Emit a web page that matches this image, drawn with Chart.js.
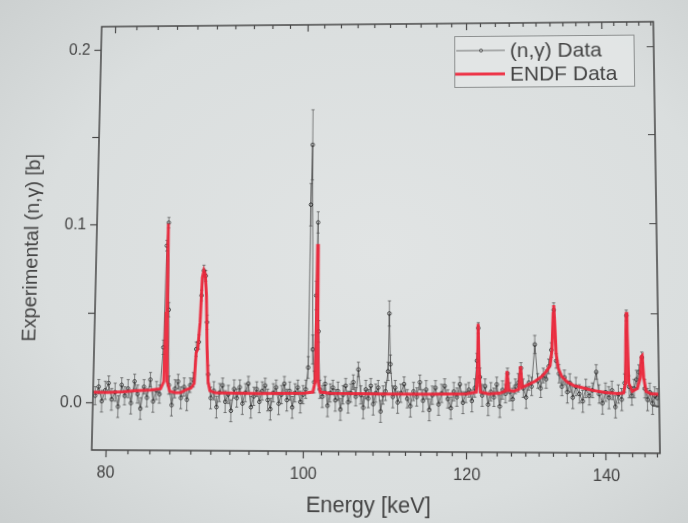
<!DOCTYPE html>
<html>
<head>
<meta charset="utf-8">
<title>Experimental (n,γ) vs ENDF</title>
<script src="https://cdn.jsdelivr.net/npm/chart.js@4.4.1/dist/chart.umd.min.js"></script>
<style>
  html, body { margin: 0; padding: 0; width: 688px; height: 523px; overflow: hidden; }
  body { background: radial-gradient(ellipse 75% 75% at 55% 48%, #e1e4e4 0%, #dadede 65%, #cbcfcf 100%); }
  #c { position: absolute; left: 0; top: 0; transform-origin: 0 0; }
</style>
</head>
<body>
<canvas id="c" width="688" height="523"></canvas>
<script>
// ---- measured (n,gamma) cross section: energy [keV], sigma [b], 1-sigma error [b]
const expEnergy = [
  78.9, 79.2, 79.5, 79.8, 80.1, 80.4, 80.7, 81.0, 81.3, 81.6,
  81.9, 82.2, 82.5, 82.8, 83.1, 83.4, 83.7, 84.0, 84.3, 84.6,
  84.9, 85.2, 85.35, 85.5, 85.65, 85.8, 86.1, 86.4, 86.7, 87.0,
  87.3, 87.6, 87.9, 88.2, 88.45, 88.7, 88.9, 89.1, 89.3, 89.5,
  89.7, 90.0, 90.3, 90.6, 90.9, 91.2, 91.5, 91.8, 92.1, 92.4,
  92.7, 93.0, 93.3, 93.6, 93.9, 94.2, 94.5, 94.8, 95.1, 95.4,
  95.7, 96.0, 96.3, 96.6, 96.9, 97.2, 97.5, 97.8, 98.1, 98.4,
  98.7, 99.0, 99.3, 99.6, 99.9, 100.2, 100.45, 100.6, 100.75, 100.95,
  101.15, 101.3, 101.45, 101.6, 101.8, 102.1, 102.4, 102.7, 103.0, 103.3,
  103.6, 103.9, 104.2, 104.5, 104.8, 105.1, 105.4, 105.7, 106.0, 106.3,
  106.6, 106.9, 107.2, 107.5, 107.8, 108.1, 108.4, 108.7, 109.0, 109.3,
  109.6, 109.9, 110.05, 110.2, 110.5, 110.8, 111.1, 111.5, 111.9, 112.3,
  112.7, 113.1, 113.5, 113.9, 114.3, 114.7, 115.1, 115.5, 115.9, 116.3,
  116.7, 117.1, 117.5, 117.9, 118.3, 118.7, 119.1, 119.5, 119.9, 120.3,
  120.7, 121.1, 121.4, 121.6, 121.8, 122.1, 122.5, 122.9, 123.3, 123.7,
  124.1, 124.5, 124.9, 125.3, 125.6, 125.9, 126.3, 126.7, 127.1, 127.5,
  127.8, 128.2, 128.6, 129.0, 129.5, 129.9, 130.3, 130.7, 131.1, 131.5,
  131.9, 132.3, 132.6, 133.0, 133.4, 133.8, 134.2, 134.6, 135.0, 135.5,
  136.0, 136.5, 137.0, 137.5, 138.0, 138.6, 139.0, 139.5, 140.0, 140.5,
  141.0, 141.5, 142.0, 142.5, 143.0, 143.4, 143.7, 144.1, 144.5, 144.9,
  145.3, 145.8, 146.2, 146.6, 147.0, 147.4, 147.8, 148.2
];
const expSigma = [
  0.004, 0.009, 0.001, 0.007, 0.011, 0.002, 0.006, -0.002, 0.010, 0.004,
  0.008, 0.000, 0.012, 0.005, -0.003, 0.009, 0.003, 0.013, 0.001, 0.007,
  0.005, 0.031, 0.088, 0.101, 0.052, 0.010, -0.001, 0.008, 0.012, 0.003,
  0.009, 0.002, 0.010, 0.013, 0.030, 0.034, 0.060, 0.074, 0.071, 0.045,
  0.016, 0.003, 0.007, -0.002, 0.006, 0.010, 0.001, 0.005, -0.004, 0.008,
  0.003, 0.009, 0.000, 0.006, 0.011, -0.002, 0.004, 0.008, 0.001, 0.007,
  0.010, 0.002, -0.003, 0.006, 0.009, 0.000, 0.005, 0.011, 0.002, 0.007,
  -0.002, 0.006, 0.009, 0.001, 0.005, 0.008, 0.020, 0.111, 0.145, 0.030,
  0.012, 0.060, 0.101, 0.040, 0.008, 0.004, 0.011, -0.001, 0.006, 0.009,
  0.002, 0.007, -0.003, 0.005, 0.010, 0.001, 0.006, 0.012, 0.004, 0.019,
  0.005, -0.002, 0.008, 0.003, 0.010, 0.000, 0.006, 0.009, -0.004, 0.005,
  0.007, 0.018, 0.050, 0.022, 0.004, 0.009, 0.001, 0.006, 0.011, 0.003,
  -0.001, 0.007, 0.004, 0.012, 0.002, 0.008, -0.003, 0.005, 0.009, 0.000,
  0.006, 0.010, 0.003, -0.002, 0.007, 0.004, 0.011, 0.001, 0.006, 0.008,
  0.002, 0.009, 0.024, 0.042, 0.015, 0.005, 0.010, 0.000, 0.007, 0.004,
  0.011, -0.001, 0.008, 0.006, 0.017, 0.007, 0.003, 0.010, 0.012, 0.020,
  0.009, 0.004, 0.012, 0.010, 0.033, 0.013, 0.009, 0.016, 0.014, 0.021,
  0.030, 0.052, 0.024, 0.017, 0.010, 0.015, 0.007, 0.012, 0.004, 0.010,
  0.006, 0.002, 0.009, 0.005, 0.008, 0.018, 0.006, 0.001, 0.007, 0.004,
  0.008, -0.001, 0.006, 0.003, 0.012, 0.049, 0.010, 0.005, 0.009, 0.014,
  0.018, 0.026, 0.009, 0.003, 0.007, 0.001, 0.005, 0.004
];
const expError = [
  0.005, 0.004, 0.006, 0.005, 0.004, 0.006, 0.005, 0.006, 0.004, 0.005,
  0.005, 0.006, 0.004, 0.005, 0.006, 0.004, 0.005, 0.004, 0.006, 0.005,
  0.005, 0.004, 0.003, 0.003, 0.004, 0.005, 0.006, 0.005, 0.004, 0.006,
  0.005, 0.006, 0.004, 0.004, 0.004, 0.004, 0.003, 0.003, 0.003, 0.004,
  0.005, 0.006, 0.005, 0.006, 0.005, 0.004, 0.006, 0.005, 0.006, 0.005,
  0.005, 0.004, 0.006, 0.005, 0.004, 0.006, 0.005, 0.004, 0.006, 0.005,
  0.004, 0.006, 0.006, 0.005, 0.004, 0.006, 0.005, 0.004, 0.006, 0.005,
  0.006, 0.005, 0.004, 0.006, 0.005, 0.005, 0.006, 0.012, 0.020, 0.008,
  0.006, 0.008, 0.006, 0.006, 0.005, 0.006, 0.004, 0.006, 0.005, 0.004,
  0.006, 0.005, 0.006, 0.005, 0.004, 0.006, 0.005, 0.004, 0.005, 0.004,
  0.005, 0.006, 0.005, 0.005, 0.004, 0.006, 0.005, 0.004, 0.006, 0.005,
  0.005, 0.005, 0.007, 0.005, 0.006, 0.004, 0.006, 0.005, 0.004, 0.005,
  0.006, 0.005, 0.005, 0.004, 0.006, 0.005, 0.006, 0.005, 0.004, 0.006,
  0.005, 0.004, 0.005, 0.006, 0.005, 0.005, 0.004, 0.006, 0.005, 0.004,
  0.006, 0.005, 0.004, 0.003, 0.005, 0.006, 0.004, 0.006, 0.005, 0.005,
  0.004, 0.006, 0.005, 0.005, 0.003, 0.005, 0.006, 0.004, 0.005, 0.003,
  0.005, 0.006, 0.004, 0.005, 0.005, 0.004, 0.005, 0.004, 0.005, 0.004,
  0.004, 0.004, 0.004, 0.005, 0.005, 0.004, 0.006, 0.005, 0.006, 0.005,
  0.005, 0.006, 0.005, 0.005, 0.004, 0.004, 0.005, 0.006, 0.005, 0.006,
  0.005, 0.006, 0.005, 0.006, 0.005, 0.003, 0.006, 0.005, 0.005, 0.005,
  0.004, 0.003, 0.005, 0.006, 0.005, 0.006, 0.005, 0.005
];

// ---- evaluated (ENDF) capture cross section: energy [keV], sigma [b]
const endfEnergy = [
  78.7, 80.0, 81.5, 82.5, 84.0, 85.0, 85.3, 85.4, 85.46, 85.52,
  85.62, 85.9, 86.5, 87.0, 87.5, 88.0, 88.3, 88.45, 88.6, 88.8,
  88.95, 89.1, 89.25, 89.4, 89.55, 89.7, 89.9, 90.5, 95.0, 100.0,
  101.0, 101.25, 101.35, 101.42, 101.5, 101.6, 101.85, 103.0, 110.0, 115.0,
  120.0, 121.3, 121.5, 121.58, 121.68, 121.85, 123.0, 124.5, 125.35, 125.55,
  125.75, 126.5, 127.2, 127.45, 127.65, 128.5, 129.5, 130.5, 131.2, 131.7,
  132.0, 132.2, 132.3, 132.42, 132.6, 132.9, 133.4, 134.2, 135.2, 136.4,
  138.0, 140.0, 141.9, 142.8, 143.15, 143.3, 143.4, 143.5, 143.65, 144.2,
  145.0, 145.5, 145.7, 145.85, 146.05, 146.4, 147.2, 148.5
];
const endfSigma = [
  0.0060, 0.0058, 0.0062, 0.0068, 0.0072, 0.0080, 0.0120, 0.0500, 0.1005, 0.0500,
  0.0120, 0.0065, 0.0058, 0.0060, 0.0075, 0.0085, 0.0110, 0.0280, 0.0300, 0.0450,
  0.0700, 0.0740, 0.0720, 0.0600, 0.0300, 0.0120, 0.0070, 0.0058, 0.0056, 0.0058,
  0.0065, 0.0120, 0.0450, 0.0888, 0.0450, 0.0120, 0.0065, 0.0058, 0.0056, 0.0056,
  0.0058, 0.0068, 0.0200, 0.0443, 0.0200, 0.0068, 0.0058, 0.0062, 0.0075, 0.0184,
  0.0078, 0.0074, 0.0085, 0.0210, 0.0095, 0.0110, 0.0128, 0.0155, 0.0185, 0.0215,
  0.0300, 0.0500, 0.0547, 0.0460, 0.0280, 0.0200, 0.0155, 0.0125, 0.0105, 0.0095,
  0.0080, 0.0068, 0.0063, 0.0066, 0.0120, 0.0400, 0.0510, 0.0400, 0.0120, 0.0075,
  0.0090, 0.0150, 0.0265, 0.0270, 0.0150, 0.0075, 0.0062, 0.0060
];

// ---- axes
const xRange = [78.7, 148.5];
const yRange = [-0.026, 0.214];
const xMajorTicks = [80, 100, 120, 140];
const yTicks = [0, 0.05, 0.1, 0.15, 0.2];
const yLabelled = [0, 0.1, 0.2];

const FONT = '"Liberation Sans", Arial, Helvetica, sans-serif';
const INK = '#444444';
const AXIS = '#474747';
const RED = 'rgba(238,38,58,0.93)';
const AREA = { left: 96, top: 24, right: 657, bottom: 452 };

const expPoints = expEnergy.map((e, i) => ({ x: e, y: expSigma[i] }));
const endfPoints = endfEnergy.map((e, i) => ({ x: e, y: endfSigma[i] }));

// error bars under the measured points, frame, mirrored/minor ticks, legend, axis titles
const decorations = {
  id: 'decorations',
  beforeDatasetsDraw(chart) {
    const { ctx, chartArea: a, scales: { x, y } } = chart;
    ctx.save();
    ctx.beginPath();
    ctx.rect(a.left, a.top, a.right - a.left, a.bottom - a.top);
    ctx.clip();
    ctx.strokeStyle = 'rgba(55,55,55,0.7)';
    ctx.lineWidth = 0.85;
    ctx.beginPath();
    expEnergy.forEach((e, i) => {
      const px = x.getPixelForValue(e);
      const lo = y.getPixelForValue(expSigma[i] - expError[i]);
      const hi = y.getPixelForValue(expSigma[i] + expError[i]);
      ctx.moveTo(px, lo); ctx.lineTo(px, hi);
      ctx.moveTo(px - 1.6, lo); ctx.lineTo(px + 1.6, lo);
      ctx.moveTo(px - 1.6, hi); ctx.lineTo(px + 1.6, hi);
    });
    ctx.stroke();
    ctx.restore();
  },
  afterDraw(chart) {
    const { ctx, chartArea: a, scales: { x, y } } = chart;
    ctx.save();
    ctx.strokeStyle = AXIS;
    ctx.lineWidth = 1.5;
    ctx.strokeRect(a.left, a.top, a.right - a.left, a.bottom - a.top);

    ctx.lineWidth = 1.2;
    ctx.beginPath();
    // x: minor ticks every 2 keV (outward below, inward on top), major inward on top
    for (let e = 80; e <= xRange[1]; e += 2) {
      const px = Math.round(x.getPixelForValue(e)) + 0.5;
      const major = xMajorTicks.includes(e);
      if (!major) { ctx.moveTo(px, a.bottom); ctx.lineTo(px, a.bottom + 4); }
      ctx.moveTo(px, a.top); ctx.lineTo(px, a.top + (major ? 7 : 4));
    }
    // y: inward ticks on the right side
    yTicks.forEach(v => {
      const py = Math.round(y.getPixelForValue(v)) + 0.5;
      ctx.moveTo(a.right, py); ctx.lineTo(a.right - 7, py);
    });
    ctx.stroke();

    // legend
    const bx = 457, by = 37, bw = 180, bh = 52;
    ctx.fillStyle = 'rgba(226,229,229,0.9)';
    ctx.fillRect(bx, by, bw, bh);
    ctx.strokeStyle = '#8c8f8f';
    ctx.lineWidth = 1;
    ctx.strokeRect(bx + 0.5, by + 0.5, bw, bh);
    const r1 = by + 15, r2 = by + 39;
    ctx.strokeStyle = 'rgba(75,75,75,0.85)';
    ctx.lineWidth = 0.9;
    ctx.beginPath(); ctx.moveTo(bx + 2, r1); ctx.lineTo(bx + 51, r1); ctx.stroke();
    ctx.beginPath(); ctx.arc(bx + 27, r1, 1.6, 0, Math.PI * 2); ctx.stroke();
    ctx.strokeStyle = RED;
    ctx.lineWidth = 3;
    ctx.beginPath(); ctx.moveTo(bx + 1, r2); ctx.lineTo(bx + 51, r2); ctx.stroke();
    ctx.fillStyle = INK;
    ctx.font = '21px ' + FONT;
    ctx.textBaseline = 'middle';
    ctx.textAlign = 'left';
    ctx.fillText('(n,γ) Data', bx + 56, r1 + 1);
    ctx.fillText('ENDF Data', bx + 56, r2 + 1);

    // axis titles
    ctx.font = '21.5px ' + FONT;
    ctx.textAlign = 'center';
    ctx.fillText('Energy [keV]', 372, 505);
    ctx.save();
    ctx.translate(30, 250);
    ctx.rotate(-Math.PI / 2);
    ctx.font = '20px ' + FONT;
    ctx.fillText('Experimental (n,γ) [b]', 0, 0);
    ctx.restore();
    ctx.restore();
  }
};

const chart = new Chart(document.getElementById('c'), {
  type: 'line',
  data: {
    datasets: [
      {
        label: 'ENDF Data',
        data: endfPoints,
        borderColor: RED,
        borderWidth: 3,
        pointRadius: 0,
        tension: 0,
        order: 0
      },
      {
        label: '(n,γ) Data',
        data: expPoints,
        borderColor: 'rgba(70,70,70,0.85)',
        borderWidth: 0.85,
        pointRadius: 1.8,
        pointBorderWidth: 0.8,
        pointBorderColor: 'rgba(25,25,25,0.9)',
        pointBackgroundColor: 'rgba(0,0,0,0)',
        tension: 0,
        order: 1
      }
    ]
  },
  options: {
    responsive: false,
    animation: false,
    events: [],
    layout: { padding: { top: AREA.top, right: 688 - AREA.right, left: 0, bottom: 0 } },
    plugins: { legend: { display: false }, tooltip: { enabled: false } },
    scales: {
      x: {
        type: 'logarithmic',
        min: xRange[0],
        max: xRange[1],
        afterFit: s => { s.height = 523 - AREA.bottom; },
        afterBuildTicks: s => { s.ticks = xMajorTicks.map(v => ({ value: v })); },
        border: { display: false },
        grid: { drawOnChartArea: false, drawTicks: true, tickLength: 7, tickColor: AXIS, tickWidth: 1.2 },
        ticks: {
          autoSkip: false, maxRotation: 0, padding: 6,
          color: INK, font: { family: FONT, size: 16 },
          callback: v => String(v)
        }
      },
      y: {
        type: 'linear',
        min: yRange[0],
        max: yRange[1],
        afterFit: s => { s.width = AREA.left; },
        afterBuildTicks: s => { s.ticks = yTicks.map(v => ({ value: v })); },
        border: { display: false },
        grid: { drawOnChartArea: false, drawTicks: true, tickLength: 7, tickColor: AXIS, tickWidth: 1.2 },
        ticks: {
          autoSkip: false, padding: 4,
          color: INK, font: { family: FONT, size: 16 },
          callback: v => (yLabelled.some(t => Math.abs(t - v) < 1e-9) ? v.toFixed(1) : '')
        }
      }
    }
  },
  plugins: [decorations]
});

// slight keystone of the whole figure: map the plot frame onto a tilted quadrilateral
(function applyKeystone() {
  const a = chart.chartArea;
  const src = [[a.left, a.top], [a.right, a.top], [a.right, a.bottom], [a.left, a.bottom]];
  const dst = [[101.7, 26.7], [653.3, 21.7], [660, 453.3], [91.7, 450]];
  const A = [], b = [];
  for (let i = 0; i < 4; i++) {
    const [px, py] = src[i], [u, v] = dst[i];
    A.push([px, py, 1, 0, 0, 0, -u * px, -u * py]); b.push(u);
    A.push([0, 0, 0, px, py, 1, -v * px, -v * py]); b.push(v);
  }
  for (let c = 0; c < 8; c++) {
    let p = c;
    for (let r = c + 1; r < 8; r++) if (Math.abs(A[r][c]) > Math.abs(A[p][c])) p = r;
    [A[c], A[p]] = [A[p], A[c]]; [b[c], b[p]] = [b[p], b[c]];
    for (let r = 0; r < 8; r++) {
      if (r === c) continue;
      const f = A[r][c] / A[c][c];
      for (let k = c; k < 8; k++) A[r][k] -= f * A[c][k];
      b[r] -= f * b[c];
    }
  }
  const h = b.map((v, i) => v / A[i][i]);
  document.getElementById('c').style.transform =
    `matrix3d(${h[0]},${h[3]},0,${h[6]},${h[1]},${h[4]},0,${h[7]},0,0,1,0,${h[2]},${h[5]},0,1)`;
})();
</script>
</body>
</html>
